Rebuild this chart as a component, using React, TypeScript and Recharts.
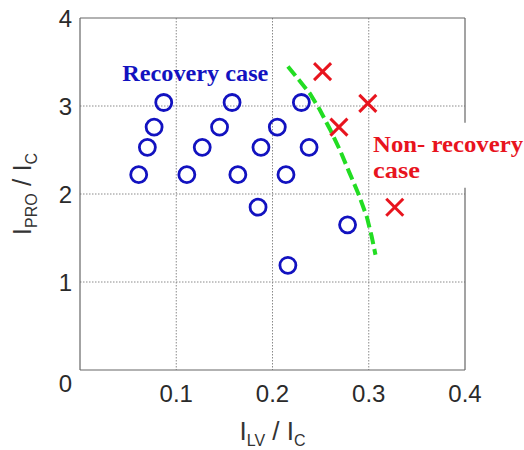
import React from 'react';
import {
  ScatterChart,
  Scatter,
  XAxis,
  YAxis,
  CartesianGrid,
  ReferenceLine,
  ReferenceDot,
  Label,
} from 'recharts';

// Recovery cases (blue circles)
const recoveryX = [0.061, 0.07, 0.077, 0.087, 0.111, 0.127, 0.145, 0.158, 0.164, 0.185, 0.188, 0.205, 0.214, 0.216, 0.23, 0.238, 0.278];
const recoveryY = [2.22, 2.53, 2.76, 3.04, 2.22, 2.53, 2.76, 3.04, 2.22, 1.85, 2.53, 2.76, 2.22, 1.19, 3.04, 2.53, 1.65];

// Non-recovery cases (red crosses)
const nonRecoveryX = [0.252, 0.299, 0.269, 0.327];
const nonRecoveryY = [3.39, 3.03, 2.76, 1.85];

// Boundary (green dashed curve)
const boundaryX = [0.216, 0.239, 0.249, 0.26, 0.27, 0.28, 0.289, 0.298, 0.303, 0.307];
const boundaryY = [3.45, 3.14, 2.96, 2.73, 2.5, 2.24, 2.01, 1.74, 1.52, 1.31];

const xTicks = [0, 0.1, 0.2, 0.3, 0.4];
const yTicks = [0, 1, 2, 3, 4];
const gridX = [0.1, 0.2, 0.3];
const gridY = [1, 2, 3];

// Annotation texts (anchor in data coordinates: start x, baseline y)
const annotationText = ['Recovery case', 'Non- recovery', 'case'];
const annotationX = [0.044, 0.3045, 0.3045];
const annotationY = [3.285, 2.48, 2.18];

const recovery = recoveryX.map((x, i) => ({ x, y: recoveryY[i] }));
const nonRecovery = nonRecoveryX.map((x, i) => ({ x, y: nonRecoveryY[i] }));
const boundary = boundaryX.map((x, i) => ({ x, y: boundaryY[i] }));

const SANS = '"Liberation Sans", Arial, sans-serif';
const SERIF = '"Liberation Serif", "Times New Roman", serif';
const BLUE = '#1212c0';
const RED = '#e8141e';
const GREEN = '#22dd22';
const AXIS = '#666';

const XTick = (props: any) => {
  const { x, y, payload } = props;
  if (payload.value === 0) return null;
  return (
    <text x={x} y={y + 32} textAnchor="middle" fontFamily={SANS} fontSize={24} fill="#2a2a2a">
      {payload.value}
    </text>
  );
};

const YTick = (props: any) => {
  const { x, y, payload } = props;
  const extra = payload.value === 0 ? 13 : 0;
  return (
    <text x={x - 8} y={y + 9 + extra} textAnchor="end" fontFamily={SANS} fontSize={24} fill="#2a2a2a">
      {payload.value}
    </text>
  );
};

const XLabel = (props: any) => {
  const vb = props.viewBox;
  const cx = vb.x + vb.width / 2;
  return (
    <text x={cx} y={vb.y + 70} textAnchor="middle" fontFamily={SANS} fontSize={26} fill="#333">
      <tspan>I</tspan>
      <tspan fontSize={16} dy={6}>LV</tspan>
      <tspan dy={-6}> / I</tspan>
      <tspan fontSize={16} dy={6}>C</tspan>
    </text>
  );
};

const YLabel = (props: any) => {
  const vb = props.viewBox;
  const cy = vb.y + vb.height / 2;
  const cx = 31;
  return (
    <text
      x={cx}
      y={cy}
      transform={`rotate(-90, ${cx}, ${cy})`}
      textAnchor="middle"
      fontFamily={SANS}
      fontSize={26}
      fill="#333"
    >
      <tspan>I</tspan>
      <tspan fontSize={16} dy={6}>PRO</tspan>
      <tspan dy={-6}> / I</tspan>
      <tspan fontSize={16} dy={6}>C</tspan>
    </text>
  );
};

const CircleShape = (props: any) => (
  <circle cx={props.cx} cy={props.cy} r={8} fill="none" stroke={BLUE} strokeWidth={2.8} />
);

const CrossShape = (props: any) => {
  const { cx, cy } = props;
  const s = 8.5;
  return (
    <g stroke={RED} strokeWidth={3}>
      <line x1={cx - s} y1={cy - s} x2={cx + s} y2={cy + s} />
      <line x1={cx - s} y1={cy + s} x2={cx + s} y2={cy - s} />
    </g>
  );
};

const NoShape = () => <g />;

const makeTextShape = (text: string, color: string, weight: string, width: number) => (props: any) => (
  <text
    x={props.cx}
    y={props.cy}
    fontFamily={SERIF}
    fontSize={24}
    fontWeight={weight}
    fill={color}
    textLength={width}
    lengthAdjust="spacingAndGlyphs"
  >
    {text}
  </text>
);

const annotationColor = [BLUE, RED, RED];
const annotationWeight = ['bold', 'bold', 'bold'];
const annotationWidth = [146, 150, 47];

export default function App() {
  return (
    <div style={{ position: 'absolute', left: 0, top: 0, background: '#fff' }}>
      <ScatterChart width={524} height={450} margin={{ top: 18, right: 59, left: 0, bottom: 0 }}>
        <CartesianGrid
          stroke="#8a8a8a"
          strokeDasharray="1.5 1.5"
          horizontalValues={gridY}
          verticalValues={gridX}
        />
        <XAxis
          type="number"
          dataKey="x"
          domain={[0, 0.4]}
          ticks={xTicks}
          height={80}
          tickSize={0}
          tickMargin={0}
          tickLine={false}
          axisLine={{ stroke: AXIS, strokeWidth: 1.2 }}
          tick={<XTick />}
          interval={0}
        >
          <Label content={<XLabel />} />
        </XAxis>
        <YAxis
          type="number"
          dataKey="y"
          domain={[0, 4]}
          ticks={yTicks}
          width={80}
          tickSize={0}
          tickMargin={0}
          tickLine={false}
          axisLine={{ stroke: AXIS, strokeWidth: 1.2 }}
          tick={<YTick />}
          interval={0}
        >
          <Label content={<YLabel />} />
        </YAxis>
        <ReferenceLine y={4} stroke={AXIS} strokeWidth={1.2} />
        <ReferenceLine segment={[{ x: 0.4, y: 0 }, { x: 0.4, y: 2.07 }]} stroke={AXIS} strokeWidth={1.2} />
        <ReferenceLine segment={[{ x: 0.4, y: 2.81 }, { x: 0.4, y: 4 }]} stroke={AXIS} strokeWidth={1.2} />
        <Scatter data={recovery} shape={<CircleShape />} isAnimationActive={false} />
        <Scatter
          data={boundary}
          line={{ stroke: GREEN, strokeWidth: 4, strokeDasharray: '12 5' }}
          shape={<NoShape />}
          isAnimationActive={false}
        />
        <Scatter data={nonRecovery} shape={<CrossShape />} isAnimationActive={false} />
        {annotationText.map((t, i) => (
          <ReferenceDot
            key={t + i}
            x={annotationX[i]}
            y={annotationY[i]}
            r={0}
            ifOverflow="visible"
            shape={makeTextShape(t, annotationColor[i], annotationWeight[i], annotationWidth[i])}
          />
        ))}
      </ScatterChart>
    </div>
  );
}
